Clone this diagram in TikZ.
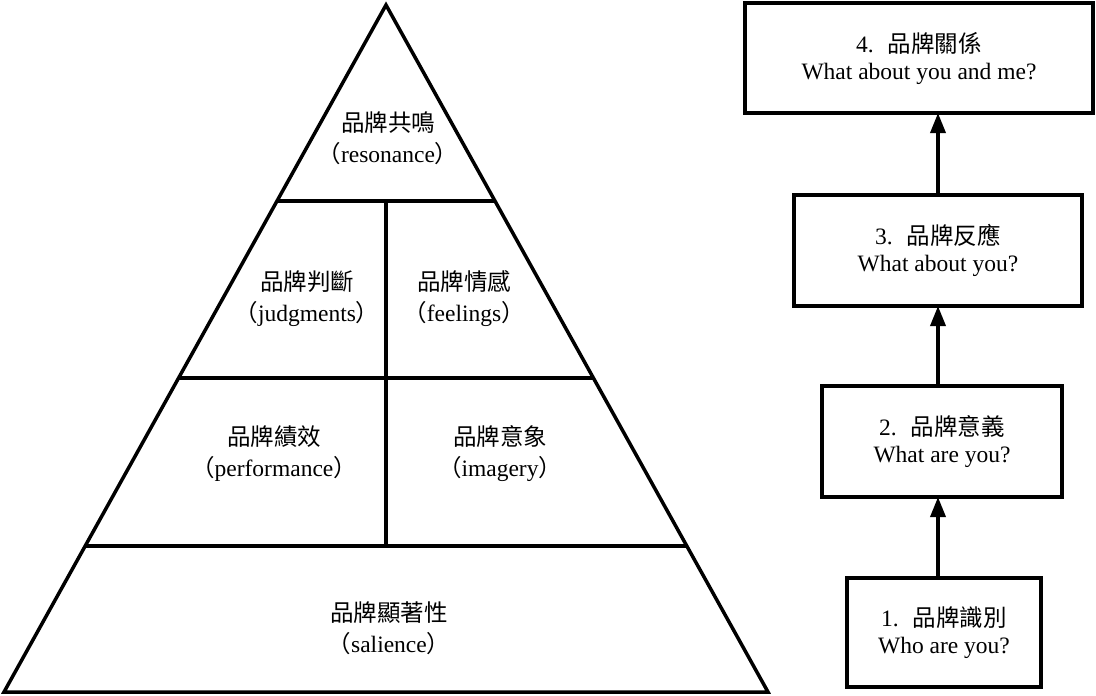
\documentclass[tikz,border=0pt]{standalone}
\usepackage{fontspec}
\setmainfont{Liberation Serif}
\newfontfamily\cjk{Noto Sans CJK TC}
\newcommand\zh[1]{{\cjk #1}}
\usetikzlibrary{arrows.meta,calc}
\begin{document}
\begin{tikzpicture}[x=1pt,y=-1pt,
  edge/.style={line width=3.5pt},
  lbl/.style={align=center,font=\fontsize{23.5}{31}\selectfont,inner sep=0pt},
  stage/.style={draw,line width=4pt,align=center,font=\fontsize{23.5}{27}\selectfont,inner sep=0pt,outer sep=0pt},
  up/.style={line width=3.5pt,-{Triangle[length=20pt,width=15pt]}}]
\useasboundingbox (0,0) rectangle (1096,696);
% pyramid
\coordinate (apex) at (386,5);
\coordinate (bl) at (4,692);
\coordinate (br) at (768,692);
\coordinate (l1) at ($(apex)!0.2853!(bl)$);
\coordinate (r1) at ($(apex)!0.2853!(br)$);
\coordinate (l2) at ($(apex)!0.5429!(bl)$);
\coordinate (r2) at ($(apex)!0.5429!(br)$);
\coordinate (l3) at ($(apex)!0.7875!(bl)$);
\coordinate (r3) at ($(apex)!0.7875!(br)$);
\coordinate (m1) at ($(l1)!0.5!(r1)$);
\coordinate (m3) at ($(l3)!0.5!(r3)$);
\draw[edge,line join=miter] (apex) -- (bl) -- (br) -- cycle;
\draw[edge] (l1) -- (r1);
\draw[edge] (l2) -- (r2);
\draw[edge] (l3) -- (r3);
\draw[edge] (m1) -- (m3);
\node[lbl] (tres) at (388,138) {\zh{品牌共鳴}\\\zh{（}resonance\zh{）}};
\node[lbl] (tjud) at (307,299) {\zh{品牌判斷}\\\zh{（}judgments\zh{）}};
\node[lbl] (tfee) at (464,299) {\zh{品牌情感}\\\zh{（}feelings\zh{）}};
\node[lbl] (tper) at (274,454) {\zh{品牌績效}\\\zh{（}performance\zh{）}};
\node[lbl] (tima) at (500,454) {\zh{品牌意象}\\\zh{（}imagery\zh{）}};
\node[lbl] (tsal) at (389,628) {\zh{品牌顯著性}\\\zh{（}salience\zh{）}};
% stages
\node[stage,minimum width=348pt,minimum height=110pt] (b4) at (919,58) {4.\hspace{0.6em}\zh{品牌關係}\\What about you and me?};
\node[stage,minimum width=288pt,minimum height=111pt] (b3) at (938,250.5) {3.\hspace{0.6em}\zh{品牌反應}\\What about you?};
\node[stage,minimum width=240pt,minimum height=111pt] (b2) at (942,441.5) {2.\hspace{0.6em}\zh{品牌意義}\\What are you?};
\node[stage,minimum width=194pt,minimum height=109pt] (b1) at (944,632.5) {1.\hspace{0.6em}\zh{品牌識別}\\Who are you?};
\coordinate (ax) at (938,0);
\draw[up] (b1.north -| ax) -- (b2.south -| ax);
\draw[up] (b2.north -| ax) -- (b3.south -| ax);
\draw[up] (b3.north -| ax) -- (b4.south -| ax);
\end{tikzpicture}
\end{document}
